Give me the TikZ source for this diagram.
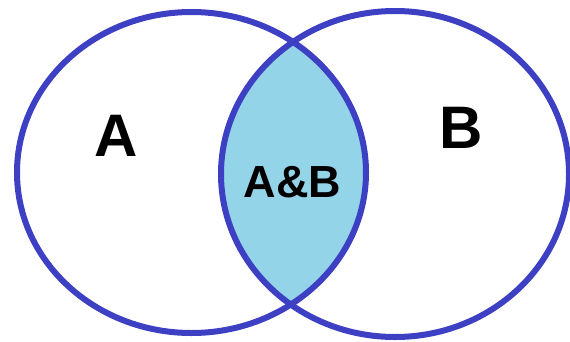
\documentclass[tikz,border=0pt]{standalone}
\usepackage{fontspec}
\setmainfont{Liberation Sans}
\definecolor{vline}{RGB}{62,64,196}
\definecolor{vfill}{RGB}{148,212,232}
\begin{document}
\begin{tikzpicture}[x=1pt,y=-1pt,
  circ/.style={draw=vline,line width=6pt},
  lbl/.style={inner sep=0pt,font=\bfseries\fontsize{60}{60}\selectfont},
  lblsmall/.style={inner sep=0pt,font=\bfseries\fontsize{45}{45}\selectfont}]
\useasboundingbox[fill=white] (0,0) rectangle (570,341);
\begin{scope}
  \clip (191.5,172.5) ellipse [x radius=174.5,y radius=160.5];
  \fill[vfill] (395,174) ellipse [x radius=174,y radius=163];
\end{scope}
\draw[circ] (191.5,172.5) ellipse [x radius=174.5,y radius=160.5];
\draw[circ] (395,174) ellipse [x radius=174,y radius=163];
\node[lbl,anchor=base] (a) at (116.5,156) {A};
\node[lbl,anchor=base] (b) at (461,148) {B};
\node[lblsmall,anchor=base] (ab) at (292.5,197.5) {A\&B};
\end{tikzpicture}
\end{document}
